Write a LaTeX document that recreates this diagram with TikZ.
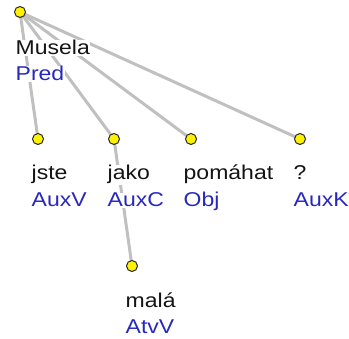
\documentclass[tikz,border=0pt]{standalone}
\usepackage{fontspec}
\setmainfont{Liberation Sans}[FakeStretch=1.15]
\usetikzlibrary{backgrounds}
\definecolor{wordc}{RGB}{20,20,20}
\definecolor{labc}{RGB}{40,40,190}
\definecolor{edgec}{RGB}{192,192,192}
\tikzset{
  dot/.style={circle, draw=black!85, line width=1pt, fill=yellow, minimum size=11pt, inner sep=0pt},
  edge/.style={draw=edgec, line width=3pt},
  wtext/.style={anchor=base west, inner sep=0.5pt, fill=white, font=\fontsize{20pt}{24pt}\selectfont},
  word/.style={wtext, text=wordc},
  lab/.style={wtext, text=labc},
}
\begin{document}
\begin{tikzpicture}[x=1pt, y=-1pt]
\useasboundingbox (0,0) rectangle (349,339);
% text
\node[word] (tMusela) at (15,55) {Musela};
\node[lab]  (lMusela) at (15,81) {Pred};
\node[word] (tjste) at (31,180) {jste};
\node[lab]  (ljste) at (31,207) {AuxV};
\node[word] (tjako) at (107,180) {jako};
\node[lab]  (ljako) at (107,207) {AuxC};
\node[word] (tpom) at (183,180) {pomáhat};
\node[lab]  (lpom) at (183,207) {Obj};
\node[word] (tq) at (293,180) {?};
\node[lab]  (lq) at (293,207) {AuxK};
\node[word] (tmala) at (125,308) {malá};
\node[lab]  (lmala) at (125,334) {AtvV};
% dots
\node[dot] (musela) at (20,12) {};
\node[dot] (jste) at (38,139) {};
\node[dot] (jako) at (114,139) {};
\node[dot] (pom) at (191,139) {};
\node[dot] (q) at (300,139) {};
\node[dot] (mala) at (132,266) {};
% edges
\begin{scope}[on background layer]
\draw[edge] (musela.center) -- (jste.center);
\draw[edge] (musela.center) -- (jako.center);
\draw[edge] (musela.center) -- (pom.center);
\draw[edge] (musela.center) -- (q.center);
\draw[edge] (jako.center) -- (mala.center);
\end{scope}
\end{tikzpicture}
\end{document}
